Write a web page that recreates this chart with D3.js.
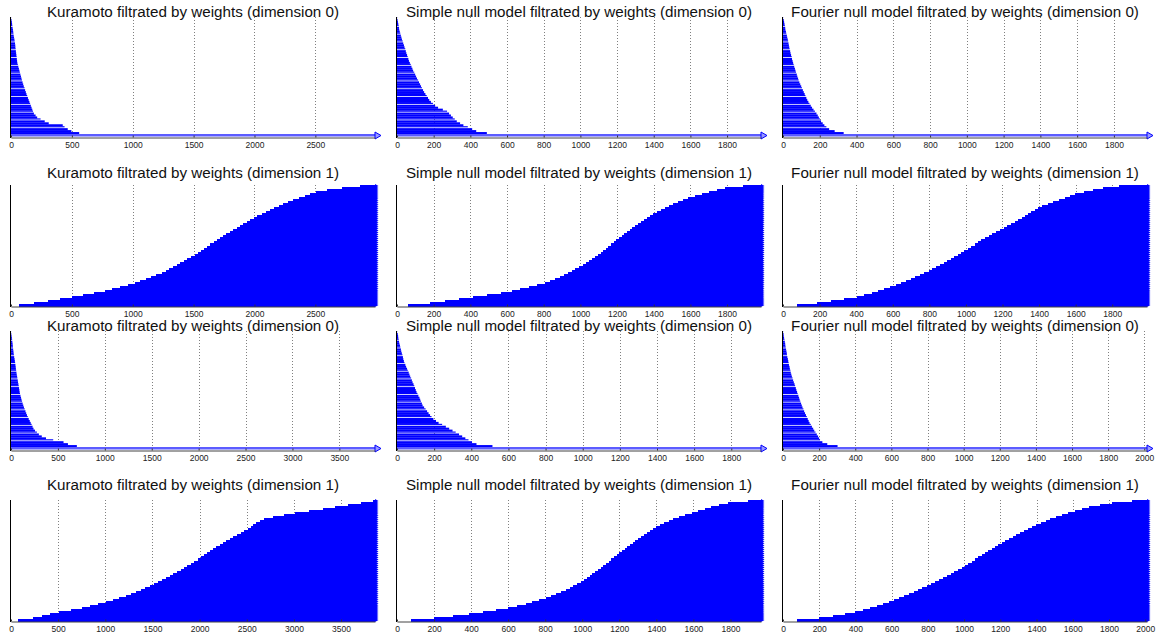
<!DOCTYPE html>
<html>
<head>
<meta charset="utf-8">
<script src="https://cdn.jsdelivr.net/npm/d3@7"></script>
<style>
  body { margin: 0; background: #fff; }
  svg { display: block; font-family: "Liberation Sans", Arial, Helvetica, sans-serif; }
</style>
</head>
<body>
<div class="graph"></div>
<script>
var NS = {}; // namespace
NS.width = 1160;
NS.height = 635;

// death values of the finite bars, dimension 0 (listed from the bottom bar up)
var kuramotoDim0A = [560, 496, 466, 440, 425, 310, 277, 243, 215, 202, 188, 181, 175, 169, 163, 157, 151, 145, 139, 133,
  127, 122, 116, 111, 105, 100, 95, 90, 86, 82, 77, 73, 69, 65, 60, 56, 52, 50, 48, 46,
  44, 42, 40, 38, 36, 35, 33, 30, 28, 25, 22, 20, 18, 16, 13, 11, 9, 7, 4, 1];
var simpleDim0A = [490, 432, 410, 386, 362, 344, 326, 315, 304, 294, 284, 273, 250, 224, 208, 196, 185, 176, 169, 162,
  155, 148, 142, 136, 131, 126, 120, 115, 109, 104, 99, 94, 88, 84, 79, 75, 70, 65, 62, 58,
  55, 51, 48, 45, 41, 38, 34, 31, 27, 24, 21, 18, 15, 12, 11, 9, 7, 5, 3, 1];
var fourierDim0A = [330, 281, 251, 236, 225, 216, 207, 201, 195, 189, 182, 174, 166, 158, 151, 144, 138, 132, 127, 122,
  118, 113, 108, 103, 99, 94, 89, 85, 82, 78, 75, 71, 68, 65, 61, 58, 55, 52, 49, 47,
  44, 41, 39, 36, 34, 32, 30, 28, 26, 23, 21, 18, 16, 13, 12, 10, 8, 6, 4, 1];
var kuramotoDim0B = [702, 607, 560, 450, 373, 328, 297, 276, 256, 240, 230, 220, 210, 200, 189, 179, 170, 162, 154, 146,
  138, 131, 124, 118, 112, 107, 101, 96, 92, 89, 86, 82, 79, 75, 72, 68, 65, 61, 58, 55,
  52, 50, 47, 44, 41, 38, 34, 31, 28, 26, 23, 21, 19, 17, 14, 12, 9, 6, 3, 1];
var simpleDim0B = [514, 428, 404, 385, 368, 351, 334, 316, 299, 281, 263, 243, 224, 210, 196, 186, 178, 170, 162, 154,
  146, 138, 134, 129, 125, 121, 115, 110, 105, 101, 97, 93, 89, 84, 80, 76, 71, 67, 63, 58,
  54, 49, 45, 40, 37, 34, 32, 29, 26, 23, 21, 18, 16, 13, 11, 9, 7, 6, 4, 1];
var fourierDim0B = [302, 245, 218, 205, 200, 194, 187, 180, 173, 167, 160, 154, 147, 142, 137, 132, 127, 122, 117, 113,
  108, 104, 100, 96, 92, 89, 85, 81, 78, 74, 71, 67, 64, 60, 56, 53, 49, 46, 43, 41,
  38, 36, 33, 31, 29, 27, 24, 22, 21, 19, 17, 15, 13, 12, 10, 8, 6, 4, 3, 1];

// birth values of the (infinite) bars, dimension 1 (from the bottom bar up)
var kuramotoDim1A = [63, 189, 302, 401, 500, 593, 685, 769, 833, 897, 962, 1018, 1061, 1105, 1149, 1193, 1237, 1271, 1301, 1330,
  1360, 1390, 1420, 1449, 1479, 1508, 1534, 1560, 1586, 1612, 1638, 1664, 1690, 1716, 1742, 1769, 1797, 1825, 1853, 1881,
  1908, 1936, 1964, 1992, 2024, 2059, 2094, 2128, 2163, 2198, 2233, 2273, 2319, 2366, 2412, 2458, 2509, 2595, 2718, 2870];
var simpleDim1A = [59, 179, 262, 338, 414, 490, 565, 625, 671, 718, 764, 806, 833, 860, 887, 910, 931, 952, 973, 994,
  1012, 1028, 1045, 1062, 1078, 1095, 1110, 1124, 1138, 1153, 1167, 1181, 1196, 1210, 1225, 1240, 1254, 1269, 1284, 1299,
  1315, 1332, 1348, 1365, 1382, 1398, 1419, 1440, 1460, 1481, 1503, 1532, 1560, 1589, 1625, 1664, 1704, 1746, 1788, 1888];
var fourierDim1A = [75, 188, 264, 335, 402, 443, 484, 520, 553, 587, 617, 644, 672, 700, 724, 748, 772, 797, 817, 838,
  858, 878, 899, 917, 935, 954, 972, 990, 1009, 1028, 1047, 1066, 1085, 1104, 1124, 1145, 1165, 1185, 1206, 1226,
  1246, 1266, 1286, 1305, 1323, 1340, 1357, 1375, 1392, 1417, 1448, 1478, 1509, 1539, 1568, 1598, 1646, 1695, 1752, 1837];
var kuramotoDim1B = [77, 231, 328, 416, 508, 634, 757, 842, 927, 1010, 1079, 1149, 1218, 1277, 1326, 1376, 1426, 1475, 1520, 1561,
  1601, 1641, 1682, 1723, 1762, 1798, 1834, 1870, 1907, 1943, 1979, 2014, 2047, 2080, 2113, 2146, 2179, 2212, 2245, 2283,
  2321, 2359, 2398, 2436, 2474, 2510, 2540, 2570, 2601, 2644, 2686, 2779, 2895, 3015, 3163, 3305, 3435, 3572, 3715, 3836];
var simpleDim1B = [75, 200, 304, 387, 464, 535, 601, 647, 694, 731, 767, 803, 831, 859, 888, 911, 932, 952, 972, 993,
  1010, 1025, 1040, 1055, 1070, 1085, 1100, 1114, 1128, 1143, 1157, 1172, 1186, 1200, 1215, 1229, 1243, 1258, 1272, 1286,
  1301, 1317, 1333, 1349, 1364, 1380, 1396, 1418, 1442, 1467, 1491, 1522, 1557, 1593, 1627, 1660, 1693, 1738, 1786, 1894];
var fourierDim1B = [75, 200, 276, 340, 400, 441, 481, 518, 551, 585, 615, 642, 669, 697, 721, 745, 770, 794, 817, 839,
  862, 884, 906, 926, 946, 966, 986, 1006, 1024, 1043, 1061, 1079, 1097, 1116, 1134, 1152, 1171, 1189, 1208, 1228,
  1248, 1268, 1288, 1309, 1332, 1354, 1376, 1398, 1424, 1451, 1477, 1505, 1540, 1576, 1613, 1652, 1692, 1749, 1818, 1925];

// x-axis extent (end of the filtration) per panel, row by row
var xMaxRow1 = [2990, 1985, 1980];
var xMaxRow2 = [2990, 1985, 1990];
var xMaxRow3 = [3880, 1960, 2015];
var xMaxRow4 = [3860, 1965, 2010];

// tick labels
var ticksKuramotoA = [0, 500, 1000, 1500, 2000, 2500];
var ticksKuramotoB = [0, 500, 1000, 1500, 2000, 2500, 3000, 3500];
var ticks1800 = [0, 200, 400, 600, 800, 1000, 1200, 1400, 1600, 1800];
var ticks2000 = [0, 200, 400, 600, 800, 1000, 1200, 1400, 1600, 1800, 2000];

var models = ["Kuramoto", "Simple null model", "Fourier null model"];

// layout
NS.colLeft = [11, 397, 783];
NS.plotW = 364;
NS.rowTop = [17, 185, 331, 500];
NS.rowBottom = [137, 306, 450, 621];
NS.titleY = [17, 178, 331, 490];
NS.blue = "#0000ff";

function makeSVG() {
  var svg = d3.select(".graph")
    .append("svg")
    .attr("width", NS.width)
    .attr("height", NS.height);
  return svg;
}

function buildPanels() {
  var bars = [
    [kuramotoDim0A, simpleDim0A, fourierDim0A],
    [kuramotoDim1A, simpleDim1A, fourierDim1A],
    [kuramotoDim0B, simpleDim0B, fourierDim0B],
    [kuramotoDim1B, simpleDim1B, fourierDim1B]
  ];
  var xMax = [xMaxRow1, xMaxRow2, xMaxRow3, xMaxRow4];
  var ticks = [
    [ticksKuramotoA, ticks1800, ticks1800],
    [ticksKuramotoA, ticks1800, ticks1800],
    [ticksKuramotoB, ticks1800, ticks2000],
    [ticksKuramotoB, ticks1800, ticks2000]
  ];
  var panels = [];
  for (var r = 0; r < 4; r++) {
    for (var c = 0; c < 3; c++) {
      var dim = r % 2;
      panels.push({
        row: r, col: c, dim: dim,
        title: models[c] + " filtrated by weights (dimension " + dim + ")",
        bars: bars[r][c], xMax: xMax[r][c], ticks: ticks[r][c]
      });
    }
  }
  return panels;
}

function drawPanel(svg, p) {
  var top = NS.rowTop[p.row], bottom = NS.rowBottom[p.row];
  var g = svg.append("g")
    .attr("transform", "translate(" + NS.colLeft[p.col] + ",0)");

  var x = d3.scaleLinear().domain([0, p.xMax]).range([0, NS.plotW]);
  var xEnd = x(p.xMax);

  // title
  g.append("text")
    .attr("x", NS.plotW / 2)
    .attr("y", NS.titleY[p.row])
    .attr("text-anchor", "middle")
    .style("font-size", "15.2px")
    .style("fill", "#111")
    .text(p.title);

  // dotted grid
  g.append("g").selectAll("line")
    .data(p.ticks.filter(function(t) { return t > 0; }))
    .enter().append("line")
      .attr("x1", function(d) { return Math.round(x(d)) + 0.5; })
      .attr("x2", function(d) { return Math.round(x(d)) + 0.5; })
      .attr("y1", top)
      .attr("y2", bottom)
      .attr("stroke", "#808080")
      .attr("stroke-width", 1)
      .attr("stroke-dasharray", "1,2");

  var infH = p.dim === 0 ? 3 : 0;
  var y = d3.scaleBand()
    .domain(d3.range(p.bars.length))
    .range([bottom - infH, top]);
  var bw = y.bandwidth();

  if (p.dim === 0) {
    // finite bars from 0 to their death; every 4th leaves a thin light gap
    g.append("g").selectAll("rect")
      .data(p.bars)
      .enter().append("rect")
        .attr("x", 0)
        .attr("y", function(d, i) { return y(i); })
        .attr("width", function(d) { return x(d); })
        .attr("height", function(d, i) { return (i % 4 === 3) ? bw - 0.8 : bw + 0.15; })
        .attr("fill", NS.blue);
    // the component that never dies
    g.append("rect")
      .attr("x", 0)
      .attr("y", bottom - infH)
      .attr("width", xEnd)
      .attr("height", infH - 0.5)
      .attr("fill", "#5c5cff");
    var cy = bottom - infH / 2;
    g.append("path")
      .attr("d", "M" + xEnd + "," + (cy - 3.5) + "L" + (xEnd + 6) + "," + cy + "L" + xEnd + "," + (cy + 3.5) + "Z")
      .attr("fill", "#9a9aff")
      .attr("stroke", NS.blue)
      .attr("stroke-width", 1);
  } else {
    // infinite bars from their birth to the end
    g.append("g")
      .attr("shape-rendering", "crispEdges")
      .selectAll("rect")
      .data(p.bars)
      .enter().append("rect")
        .attr("x", function(d) { return x(d); })
        .attr("y", function(d, i) { return y(i); })
        .attr("width", function(d) { return xEnd - x(d); })
        .attr("height", bw + 1)
        .attr("fill", NS.blue);
    g.append("g").selectAll("path")
      .data(p.bars)
      .enter().append("path")
        .attr("d", function(d, i) {
          var c = y(i) + bw / 2;
          return "M" + xEnd + "," + (c - bw) + "L" + (xEnd + 3.5) + "," + c + "L" + xEnd + "," + (c + bw) + "Z";
        })
        .attr("fill", NS.blue);
  }

  // x axis
  var axis = d3.axisBottom(x)
    .tickValues(p.ticks)
    .tickFormat(d3.format("d"))
    .tickSizeInner(-2)
    .tickSizeOuter(0)
    .tickPadding(4.5);
  var ax = g.append("g")
    .attr("transform", "translate(0," + (bottom + 0.5) + ")")
    .call(axis);
  ax.select(".domain").attr("stroke", "#444");
  ax.selectAll(".tick line").attr("stroke", "#333");
  ax.selectAll(".tick text")
    .style("font-size", "8.5px")
    .style("font-family", "\"Liberation Sans\", Arial, sans-serif")
    .attr("fill", "#222");

  // y axis line
  g.append("line")
    .attr("x1", -0.5).attr("x2", -0.5)
    .attr("y1", top).attr("y2", bottom + 1)
    .attr("stroke", "#000")
    .attr("stroke-width", 1);
}

function main() {
  NS.svg = makeSVG();
  var panels = buildPanels();
  panels.forEach(function(p) { drawPanel(NS.svg, p); });
}

main();
</script>
</body>
</html>
